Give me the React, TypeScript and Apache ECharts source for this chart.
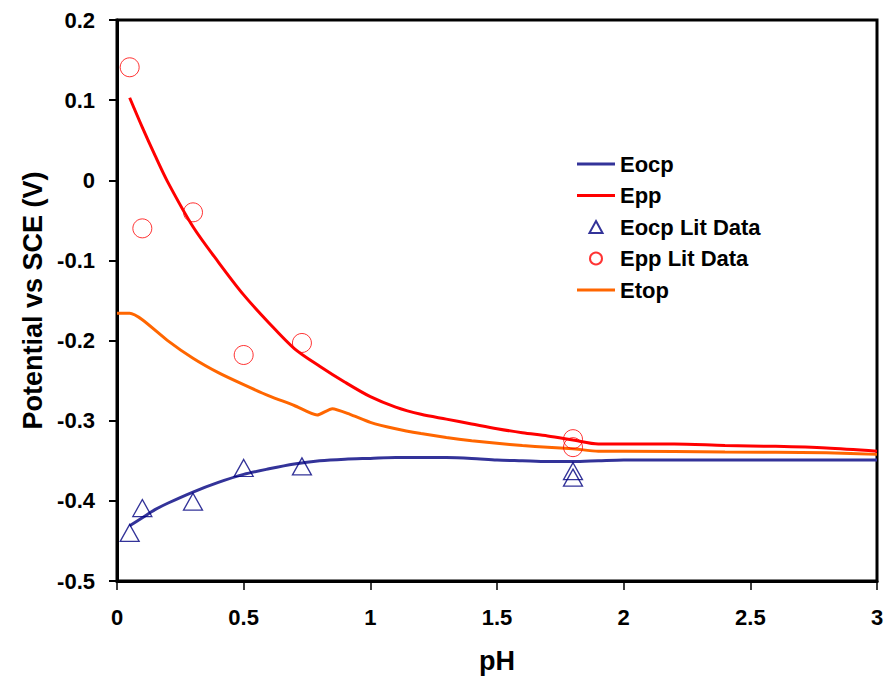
import React, { useEffect, useRef } from "react";
import * as echarts from "echarts";

// Model curves (pH, potential V vs SCE)
const eocpPH = [0.05, 0.1, 0.15, 0.2, 0.3, 0.4, 0.5, 0.6, 0.7, 0.8, 0.9, 1.0, 1.1, 1.2, 1.3, 1.4, 1.5, 1.6, 1.7, 1.8, 1.9, 2.0, 2.5, 3.0];
const eocpV = [-0.431, -0.421, -0.411, -0.403, -0.389, -0.377, -0.367, -0.36, -0.354, -0.35, -0.348, -0.347, -0.346, -0.346, -0.346, -0.347, -0.349, -0.35, -0.351, -0.351, -0.35, -0.349, -0.349, -0.349];

const eppPH = [0.05, 0.1, 0.15, 0.2, 0.3, 0.4, 0.5, 0.6, 0.7, 0.8, 0.9, 1.0, 1.1, 1.2, 1.3, 1.4, 1.5, 1.6, 1.7, 1.8, 1.9, 2.0, 2.2, 2.4, 2.6, 2.8, 3.0];
const eppV = [0.103, 0.066, 0.031, -0.002, -0.058, -0.102, -0.143, -0.178, -0.21, -0.232, -0.252, -0.27, -0.283, -0.292, -0.298, -0.304, -0.31, -0.315, -0.319, -0.324, -0.329, -0.329, -0.329, -0.331, -0.332, -0.334, -0.338];

const etopPH = [0, 0.05, 0.1, 0.2, 0.3, 0.4, 0.5, 0.6, 0.7, 0.79, 0.85, 0.92, 1.0, 1.1, 1.2, 1.3, 1.4, 1.5, 1.6, 1.7, 1.8, 1.9, 2.0, 2.4, 2.8, 3.0];
const etopV = [-0.166, -0.166, -0.174, -0.2, -0.222, -0.24, -0.255, -0.269, -0.281, -0.293, -0.285, -0.292, -0.302, -0.31, -0.316, -0.321, -0.325, -0.328, -0.331, -0.333, -0.335, -0.338, -0.338, -0.339, -0.34, -0.342];

// Literature data
const eocpLitPH = [0.05, 0.1, 0.3, 0.5, 0.73, 1.8, 1.8];
const eocpLitV = [-0.44, -0.409, -0.401, -0.359, -0.357, -0.363, -0.371];
const eppLitPH = [0.05, 0.1, 0.3, 0.5, 0.73, 1.8, 1.8];
const eppLitV = [0.141, -0.06, -0.04, -0.218, -0.203, -0.323, -0.333];

const seriesNames = ["Eocp", "Epp", "Eocp Lit Data", "Epp Lit Data", "Etop"];
const xTitle = "pH";
const yTitle = "Potential vs SCE (V)";

const zip = (xs: number[], ys: number[]) => xs.map((x, i) => [x, ys[i]]);

const FONT = "Arial, 'Liberation Sans', sans-serif";
const LINE_ICON = "path://M0,0 L38,0 L38,3 L0,3 Z";
const TRI_ICON = "path://M6,0 L12,11 L0,11 Z";

export default function App() {
  const ref = useRef<HTMLDivElement>(null);
  useEffect(() => {
    if (!ref.current) return;
    const chart = echarts.init(ref.current, undefined, { renderer: "svg" });
    chart.setOption({
      animation: false,
      backgroundColor: "#ffffff",
      textStyle: { fontFamily: FONT },
      grid: {
        left: 117,
        right: 7,
        top: 20,
        bottom: 102,
        show: true,
        borderColor: "#000",
        borderWidth: 3,
        outerBoundsMode: "none",
      },
      legend: {
        orient: "vertical",
        left: 577,
        top: 153,
        padding: 0,
        itemWidth: 38,
        itemHeight: 12,
        itemGap: 9.5,
        symbolKeepAspect: true,
        data: [
          { name: seriesNames[0], icon: LINE_ICON },
          { name: seriesNames[1], icon: LINE_ICON },
          { name: seriesNames[2], icon: TRI_ICON },
          { name: seriesNames[3], icon: "circle" },
          { name: seriesNames[4], icon: LINE_ICON },
        ],
        textStyle: { fontFamily: FONT, fontSize: 22, fontWeight: "bold", color: "#000" },
      },
      xAxis: {
        type: "value",
        min: 0,
        max: 3,
        interval: 0.5,
        name: xTitle,
        nameLocation: "middle",
        nameGap: 66,
        nameTextStyle: { fontFamily: FONT, fontSize: 27, fontWeight: "bold", color: "#000" },
        axisLine: { show: true, onZero: false, lineStyle: { color: "#000", width: 3 } },
        axisTick: { show: true, inside: false, length: 9, lineStyle: { color: "#000", width: 1.5 } },
        axisLabel: { margin: 25, fontFamily: FONT, fontSize: 22, fontWeight: "bold", color: "#000" },
        splitLine: { show: false },
      },
      yAxis: {
        type: "value",
        min: -0.5,
        max: 0.2,
        interval: 0.1,
        name: yTitle,
        nameLocation: "middle",
        nameGap: 70,
        nameTextStyle: { fontFamily: FONT, fontSize: 27, fontWeight: "bold", color: "#000" },
        axisLine: { show: true, onZero: false, lineStyle: { color: "#000", width: 3 } },
        axisTick: { show: true, inside: false, length: 8, lineStyle: { color: "#000", width: 2 } },
        axisLabel: { margin: 22, fontFamily: FONT, fontSize: 22, fontWeight: "bold", color: "#000" },
        splitLine: { show: false },
      },
      series: [
        {
          name: seriesNames[0],
          type: "line",
          data: zip(eocpPH, eocpV),
          symbol: "none",
          smooth: 0.3,
          lineStyle: { color: "#333399", width: 3 },
          itemStyle: { color: "#333399" },
          z: 3,
        },
        {
          name: seriesNames[1],
          type: "line",
          data: zip(eppPH, eppV),
          symbol: "none",
          smooth: 0.3,
          lineStyle: { color: "#ff0000", width: 3 },
          itemStyle: { color: "#ff0000" },
          z: 3,
        },
        {
          name: seriesNames[2],
          type: "scatter",
          data: zip(eocpLitPH, eocpLitV),
          symbol: "triangle",
          symbolSize: [19, 17],
          itemStyle: { color: "rgba(0,0,0,0)", borderColor: "#000080", borderWidth: 1.3 },
          z: 4,
        },
        {
          name: seriesNames[3],
          type: "scatter",
          data: zip(eppLitPH, eppLitV),
          symbol: "circle",
          symbolSize: 19,
          itemStyle: { color: "rgba(0,0,0,0)", borderColor: "#ff0000", borderWidth: 1 },
          z: 4,
        },
        {
          name: seriesNames[4],
          type: "line",
          data: zip(etopPH, etopV),
          symbol: "none",
          smooth: 0.2,
          lineStyle: { color: "#ff6600", width: 3 },
          itemStyle: { color: "#ff6600" },
          z: 2,
        },
      ],
    });
    return () => chart.dispose();
  }, []);
  return <div ref={ref} style={{ width: 884, height: 683, position: "absolute", left: 0, top: 0 }} />;
}
